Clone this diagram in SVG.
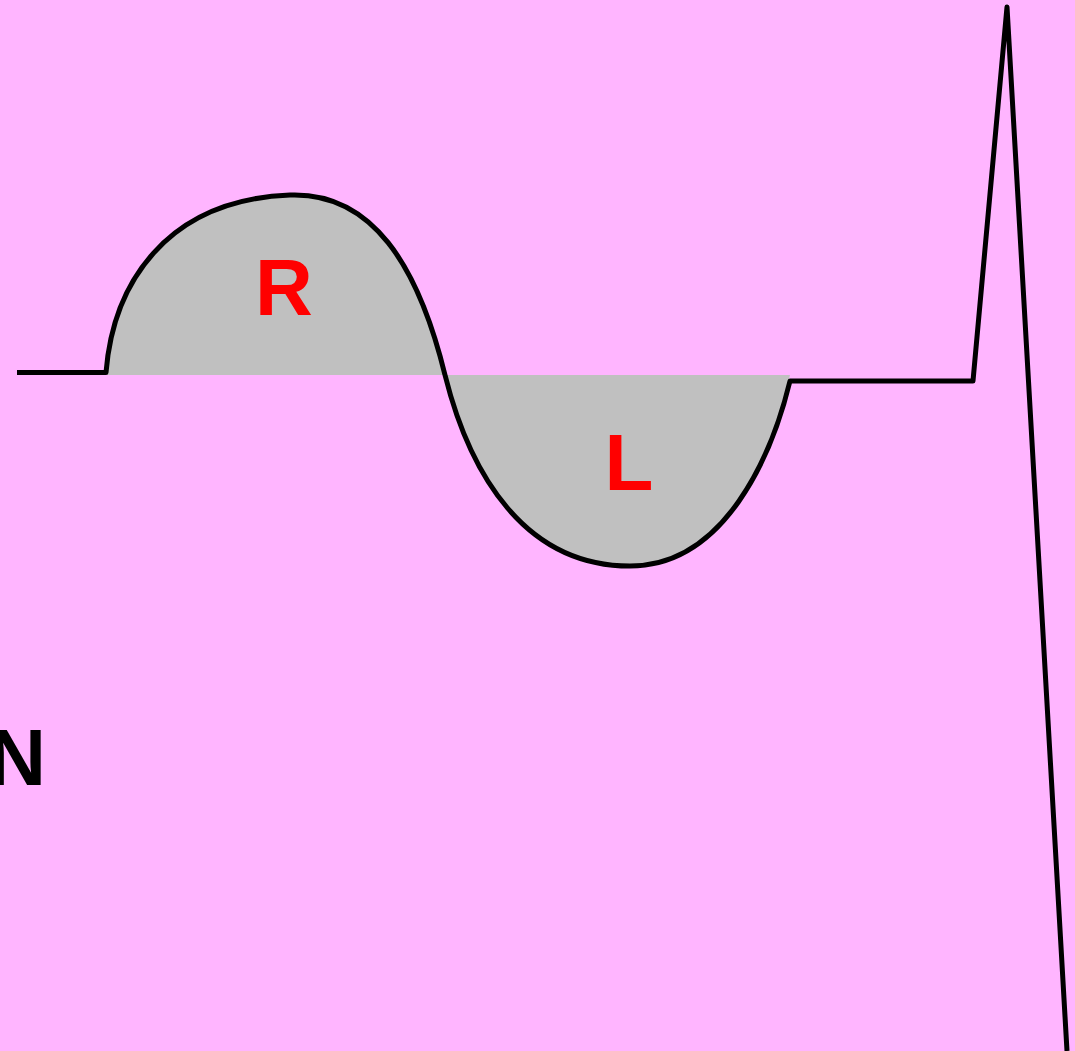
<svg xmlns="http://www.w3.org/2000/svg" width="1075" height="1051" viewBox="0 0 1075 1051">
<style>
.ln{fill:none;stroke:#000;stroke-width:5;stroke-linejoin:round;stroke-linecap:butt}
.lbl{font-family:"Liberation Sans",Arial,sans-serif;font-weight:bold;font-size:80px}
</style>
<rect width="1075" height="1051" fill="#FFB5FF"/>
<g id="fill-area">
<path d="M105,375 C113,285 165,200 290,195 C372,192 418,265 445,375 C470,475 525,566 630,566 C725,566 772,455 790,375 Z" fill="#C0C0C0"/>
</g>
<g id="connectors">
<path class="ln" d="M17,372.5 L106,372.5 C113,285 165,200 290,195 C372,192 418,265 445,375 C470,475 525,566 630,566 C725,566 772,455 790,381 L973,381 L1007,7 L1067,1051"/>
</g>
<g id="label-R"><text class="lbl" x="284" y="315" text-anchor="middle" fill="#FF0000">R</text></g>
<g id="label-L"><text class="lbl" x="629" y="490" text-anchor="middle" fill="#FF0000">L</text></g>
<g id="label-N"><text class="lbl" x="46" y="785" text-anchor="end" fill="#000">N</text></g>
</svg>
